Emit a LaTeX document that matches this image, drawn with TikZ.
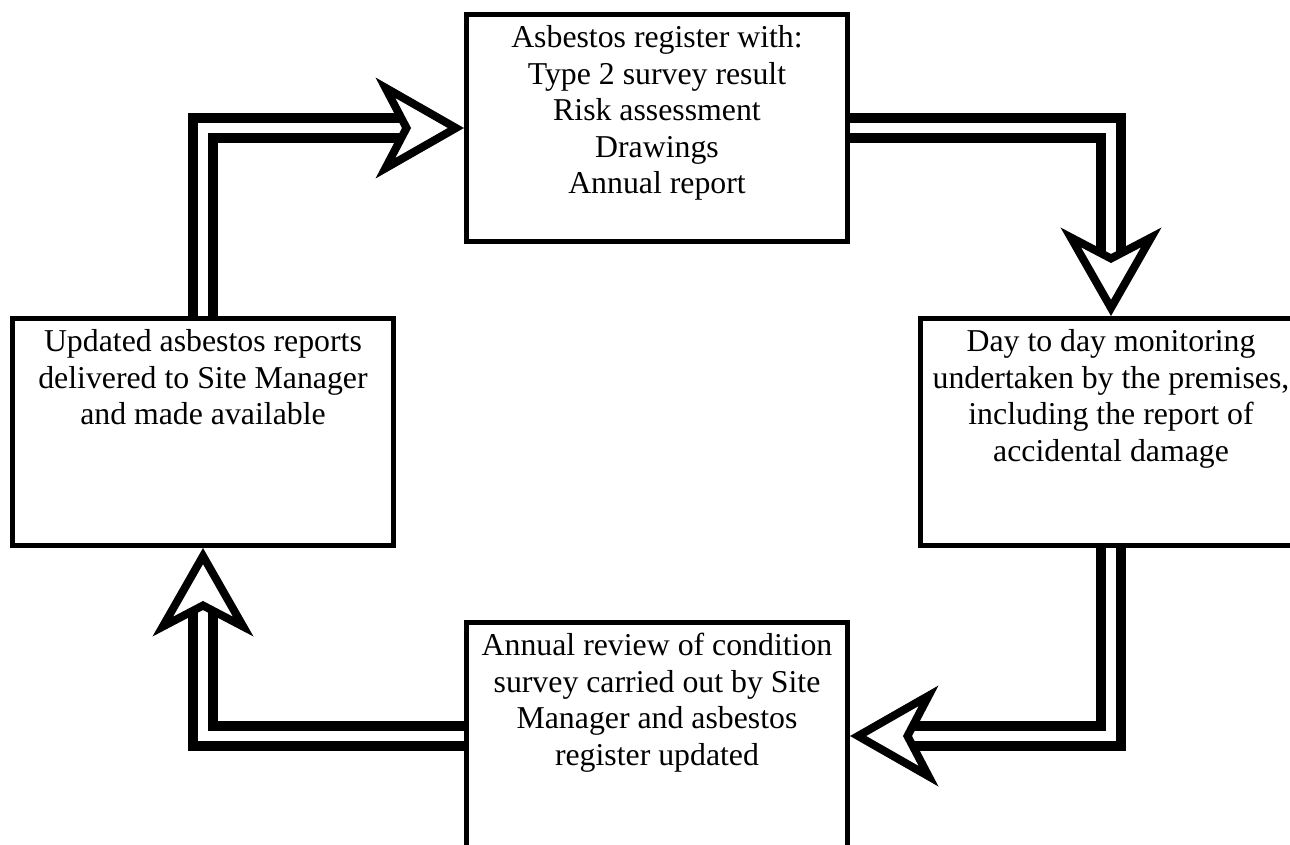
\documentclass[tikz,border=0pt]{standalone}
\usepackage{fontspec}
\setmainfont{Liberation Serif}
\usetikzlibrary{positioning,arrows.meta}

\newcommand{\stagetext}[1]{\parbox[c][112pt][t]{186pt}{\centering\rule{0pt}{15.8pt}#1}}

\begin{document}
\begin{tikzpicture}[x=0.5pt, y=-0.5pt, node distance={36pt and 34pt},
  stage/.style = {draw, line width=2.5pt, inner sep=0pt, minimum width=190.5pt, minimum height=113.5pt, font=\fontsize{15.9pt}{18.25pt}\selectfont},
  flow/.style = {draw, line width=5pt, double=white, double distance=5pt, -{Stealth[length=44pt, width=50pt, inset=13pt, line width=4pt, fill=white]}}]
  \useasboundingbox (0,0) rectangle (1290,845);
  \clip (0,0) rectangle (1290,845);

  \node[stage] (reg) at (657,128) {\stagetext{Asbestos register with:\\ Type 2 survey result\\ Risk assessment\\ Drawings\\ Annual report}};
  \node[stage] (upd) [below left=of reg] {\stagetext{Updated asbestos reports\\ delivered to Site Manager\\ and made available}};
  \node[stage] (mon) [below right=of reg] {\stagetext{Day to day monitoring\\ undertaken by the premises,\\ including the report of\\ accidental damage}};
  \node[stage] (rev) [below=188pt of reg] {\stagetext{Annual review of condition\\ survey carried out by Site\\ Manager and asbestos\\ register updated}};

  \draw[flow] (upd.north) |- (reg.west);
  \draw[flow] (reg.east) -| (mon.north);
  \draw[flow] (mon.south) |- (rev.east);
  \draw[flow] (rev.west) -| (upd.south);
\end{tikzpicture}
\end{document}
